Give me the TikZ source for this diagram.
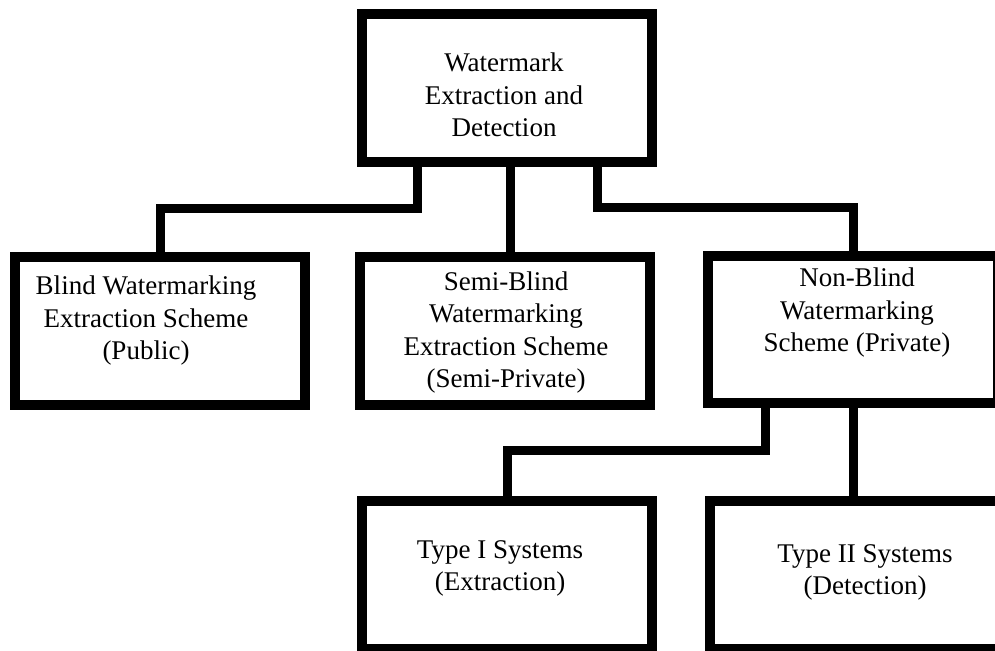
\documentclass[tikz,border=0pt]{standalone}
\usepackage{fontspec}
\setmainfont{Liberation Serif}
\begin{document}
\begin{tikzpicture}[x=1pt,y=-1pt,
  box/.style={draw=black, line width=9.5pt, line join=miter, fill=none,
    rectangle, inner sep=0pt, minimum width=290pt, minimum height=148pt},
  txt/.style={align=center, inner sep=0pt, text=black,
    font=\fontsize{27}{32.5}\selectfont},
  link/.style={draw=black, line width=9pt, line join=miter}]
\useasboundingbox (0,0) rectangle (995,650);
\clip (0,0) rectangle (995,650);

% boxes
\node[box] (top)   at (507,88)  {};
\node[box] (blind) at (160,331) {};
\node[box] (semi)  at (505,331) {};
\node[box, minimum height=147pt] (nonblind) at (853,329.5) {};
\node[box] (typeone) at (507,575) {};
\node[box] (typetwo) at (855,575) {};

% labels
\node[txt] (ttop)   at (504,95)  {Watermark\\Extraction and\\Detection};
\node[txt] (tblind) at (146,321) {Blind Watermarking\\Extraction Scheme\\(Public)};
\node[txt] (tsemi)  at (506,332.5) {Semi-Blind\\Watermarking\\Extraction Scheme\\(Semi-Private)};
\node[txt] (tnon)   at (857,313) {Non-Blind\\Watermarking\\Scheme (Private)};
\node[txt] (tone)   at (500,568.5) {Type I Systems\\(Extraction)};
\node[txt] (ttwo)   at (865,572.5) {Type II Systems\\(Detection)};

% bus points of the connectors
\coordinate (b1) at (417,208);
\coordinate (b2) at (510,208);
\coordinate (b3) at (597,207);
\coordinate (b4) at (765,450);
\coordinate (b5) at (853,450);

% connectors
\draw[link] (top.south -| b1) |- (blind.north |- b1) -- (blind.north);
\draw[link] (top.south -| b2) -- (semi.north -| b2);
\draw[link] (top.south -| b3) |- (nonblind.north |- b3) -- (nonblind.north);
\draw[link] (nonblind.south -| b4) |- (typeone.north |- b4) -- (typeone.north);
\draw[link] (nonblind.south -| b5) -- (typetwo.north -| b5);
\end{tikzpicture}
\end{document}
